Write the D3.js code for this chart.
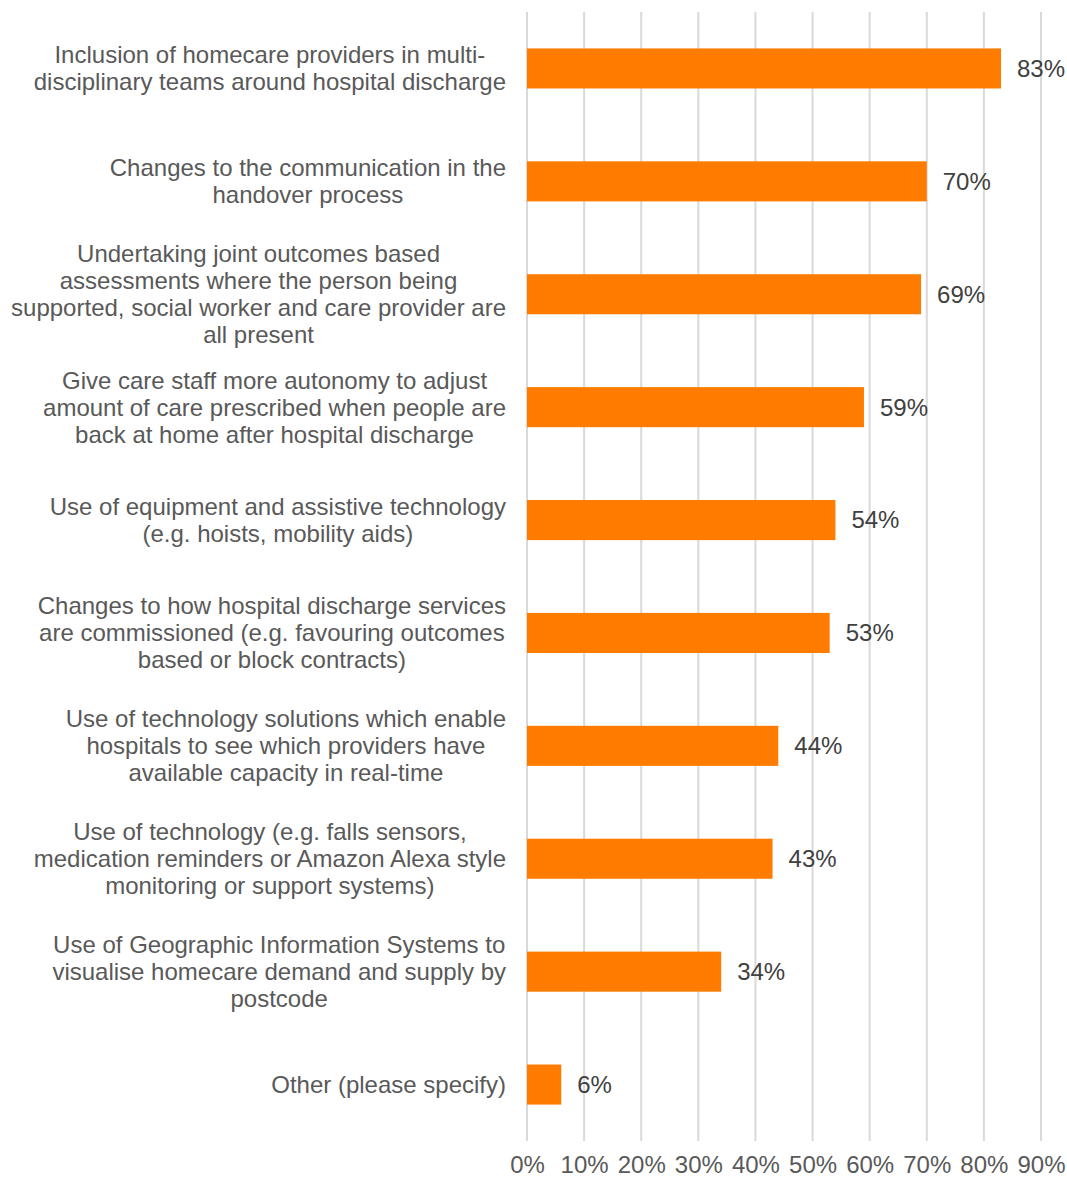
<!DOCTYPE html>
<html>
<head>
<meta charset="utf-8">
<script src="https://cdn.jsdelivr.net/npm/d3@7"></script>
<style>
  html, body { margin: 0; padding: 0; background: #fff; }
  svg { display: block; font-family: "Liberation Sans", Arial, sans-serif; }
</style>
</head>
<body>
<svg id="chart" width="1067" height="1178"></svg>
<script>
// Survey responses: share of respondents selecting each option
const categories = [
  ["Inclusion of homecare providers in multi-", "disciplinary teams around hospital discharge"],
  ["Changes to the communication in the", "handover process"],
  ["Undertaking joint outcomes based", "assessments where the person being", "supported, social worker and care provider are", "all present"],
  ["Give care staff more autonomy to adjust", "amount of care prescribed when people are", "back at home after hospital discharge"],
  ["Use of equipment and assistive technology", "(e.g. hoists, mobility aids)"],
  ["Changes to how hospital discharge services", "are commissioned (e.g. favouring outcomes", "based or block contracts)"],
  ["Use of technology solutions which enable", "hospitals to see which providers have", "available capacity in real-time"],
  ["Use of technology (e.g. falls sensors,", "medication reminders or Amazon Alexa style", "monitoring or support systems)"],
  ["Use of Geographic Information Systems to", "visualise homecare demand and supply by", "postcode"],
  ["Other (please specify)"]
];
const values = [83, 70, 69, 59, 54, 53, 44, 43, 34, 6];
const tickValues = [0, 10, 20, 30, 40, 50, 60, 70, 80, 90];

const FONT = 24;
const svg = d3.select("#chart");
const plot = { left: 527, right: 1041, top: 12, bottom: 1141 };

const x = d3.scaleLinear().domain([0, 90]).range([plot.left, plot.right]);
const y = d3.scaleBand()
  .domain(d3.range(categories.length))
  .range([plot.top, plot.bottom])
  .paddingInner(0.645)
  .paddingOuter(0.3225);

// vertical gridlines
svg.append("g")
  .selectAll("line")
  .data(tickValues)
  .join("line")
  .attr("x1", d => x(d)).attr("x2", d => x(d))
  .attr("y1", plot.top).attr("y2", plot.bottom)
  .attr("stroke", "#d9d9d9")
  .attr("stroke-width", 2);

// x axis tick labels
const xAxis = d3.axisBottom(x)
  .tickValues(tickValues)
  .tickFormat(d => d + "%")
  .tickSize(0)
  .tickPadding(0);
const axisG = svg.append("g")
  .attr("transform", `translate(0, ${plot.bottom})`)
  .call(xAxis);
axisG.select(".domain").remove();
axisG.selectAll("text")
  .attr("fill", "#595959")
  .attr("font-size", FONT)
  .attr("font-family", "'Liberation Sans', Arial, sans-serif")
  .attr("y", 32)
  .attr("dy", 0);

// bars
svg.append("g")
  .selectAll("rect")
  .data(values)
  .join("rect")
  .attr("x", x(0))
  .attr("y", (d, i) => y(i))
  .attr("width", d => x(d) - x(0))
  .attr("height", y.bandwidth())
  .attr("fill", "#ff7c00");

// value labels
svg.append("g")
  .selectAll("text")
  .data(values)
  .join("text")
  .attr("x", d => x(d) + 16)
  .attr("y", (d, i) => y(i) + y.bandwidth() / 2)
  .attr("dy", "0.35em")
  .attr("fill", "#404040")
  .attr("font-size", FONT)
  .text(d => d + "%");

// category labels: wrapped lines centred within a block aligned to the axis
const lineH = 27;
const labelRight = 506;
const labelG = svg.append("g");
categories.forEach((lines, i) => {
  const cy = y(i) + y.bandwidth() / 2;
  const t = labelG.append("text")
    .attr("fill", "#595959")
    .attr("font-size", FONT)
    .attr("text-anchor", "middle");
  const spans = lines.map((ln, k) =>
    t.append("tspan")
      .attr("y", cy + (k - (lines.length - 1) / 2) * lineH)
      .attr("dy", "0.35em")
      .text(ln));
  const maxW = d3.max(spans, s => s.node().getComputedTextLength());
  spans.forEach(s => s.attr("x", labelRight - maxW / 2));
});
</script>
</body>
</html>
